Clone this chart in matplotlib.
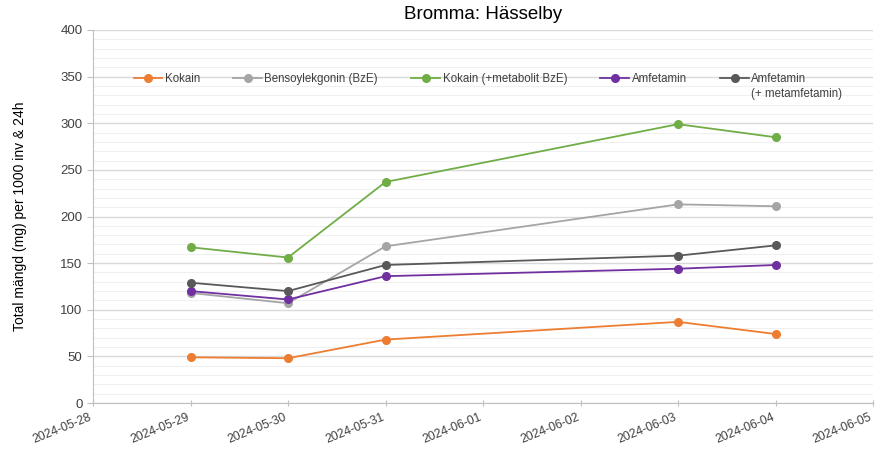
import numpy as np
import matplotlib
matplotlib.use("Agg")
import matplotlib.pyplot as plt
import matplotlib.dates as mdates
import matplotlib.transforms as mtransforms
from matplotlib.ticker import MultipleLocator

plt.rcParams['font.family'] = ['Liberation Sans', 'DejaVu Sans']

# ---- Data ----
dates = np.array(['2024-05-29', '2024-05-30', '2024-05-31', '2024-06-03', '2024-06-04'],
                 dtype='datetime64[D]')
kokain = [49, 48, 68, 87, 74]
bze = [118, 107, 168, 213, 211]
kokain_bze = [167, 156, 237, 299, 285]
amfetamin = [120, 111, 136, 144, 148]
amfetamin_meta = [129, 120, 148, 158, 169]

series = [
    ('Kokain', kokain, '#ed7d31'),
    ('Bensoylekgonin (BzE)', bze, '#a5a5a5'),
    ('Kokain (+metabolit BzE)', kokain_bze, '#70ad47'),
    ('Amfetamin', amfetamin, '#7030a0'),
    ('Amfetamin', amfetamin_meta, '#595959'),
]
extra_line = '(+ metamfetamin)'

fig = plt.figure(figsize=(8.75, 4.49), dpi=100)
ax = fig.add_axes([93 / 875, 1 - 403 / 449, 780 / 875, 373 / 449])

for label, vals, col in series:
    ax.plot(dates, vals, color=col, linewidth=1.3, marker='o', markersize=5.5,
            label=label)

ax.set_ylim(0, 400)
ax.set_xlim(np.datetime64('2024-05-28'), np.datetime64('2024-06-05'))
ax.yaxis.set_major_locator(MultipleLocator(50))
ax.yaxis.set_minor_locator(MultipleLocator(10))
ax.xaxis.set_major_locator(mdates.DayLocator())
ax.xaxis.set_major_formatter(mdates.DateFormatter('%Y-%m-%d'))

ax.grid(True, which='major', axis='y', color='#d9d9d9', linewidth=1.0)
ax.grid(True, which='minor', axis='y', color='#f0f0f0', linewidth=0.8)
ax.set_axisbelow(True)

for s in ['top', 'right']:
    ax.spines[s].set_visible(False)
for s in ['left', 'bottom']:
    ax.spines[s].set_color('#bfbfbf')
ax.tick_params(axis='y', which='major', length=4, color='#bfbfbf', labelsize=9.5,
               labelcolor='#404040')
ax.tick_params(axis='y', which='minor', length=0)
ax.tick_params(axis='x', length=5, color='#bfbfbf', direction='inout', labelsize=8.8,
               labelcolor='#404040')
# nudge the rotated date labels a few pixels left so the last one fits
shift = mtransforms.ScaledTranslation(-4 / 100, 0, fig.dpi_scale_trans)
for lbl in ax.get_xticklabels():
    lbl.set_rotation(22)
    lbl.set_ha('right')
    lbl.set_rotation_mode('anchor')
    lbl.set_transform(lbl.get_transform() + shift)

ax.set_ylabel('Total mängd (mg) per 1000 inv & 24h', fontsize=10, color='#000000',
              labelpad=24)
ax.set_title('Bromma: Hässelby', fontsize=13.5, pad=8)

leg = ax.legend(loc='center left', bbox_to_anchor=(0.052, 0.869), ncol=5, frameon=False,
                fontsize=8.3, handlelength=2.5, columnspacing=2.9, handletextpad=0.2,
                borderaxespad=0, borderpad=0)
for t in leg.get_texts():
    t.set_color('#404040')

# second line of the last legend entry, placed under its first line
fig.canvas.draw()
last = leg.get_texts()[-1]
bb = last.get_window_extent()
fig.text(bb.x0 / fig.bbox.width, (bb.y0 - 3) / fig.bbox.height, extra_line,
         fontsize=8.3, color='#404040', ha='left', va='top')

fig.savefig('out.png', dpi=100)
